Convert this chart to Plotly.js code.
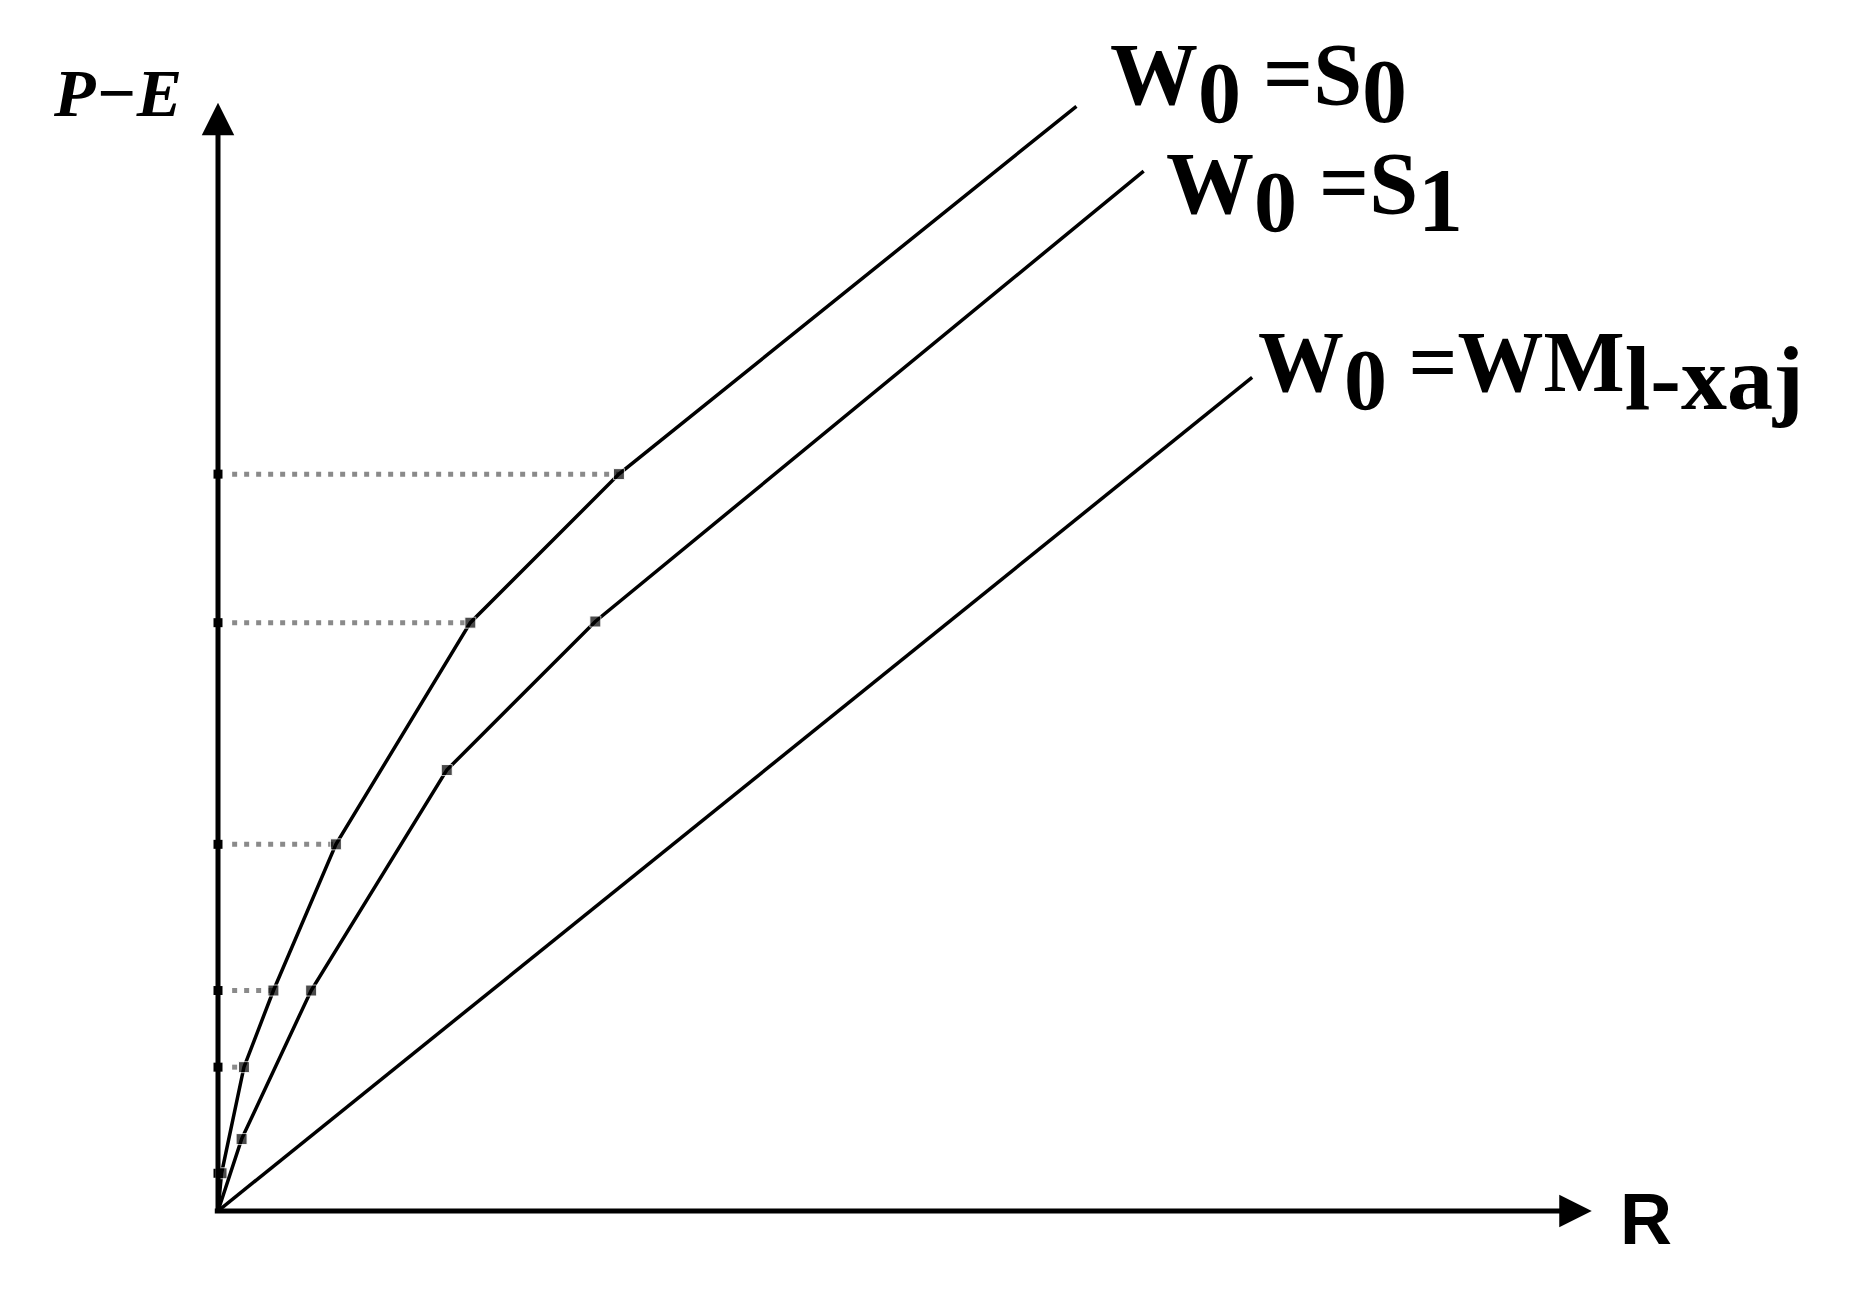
<!DOCTYPE html>
<html>
<head>
<meta charset="utf-8">
<script src="https://cdn.plot.ly/plotly-3.0.1.min.js"></script>
<style>html,body{margin:0;padding:0;background:#fff;}#chart{width:1849px;height:1298px;}</style>
</head>
<body>
<div id="chart"></div>
<script>
// Curve W0 = S0 (break points)
const s0X = [0, 0.3, 2.2, 4.7, 10.0, 21.4, 34.0, 72.8];
const s0Y = [0, 3.2, 12.2, 18.7, 31.1, 49.9, 62.5, 93.7];
// Curve W0 = S1
const s1X = [0, 2.0, 7.9, 19.4, 32.0, 78.5];
const s1Y = [0, 6.1, 18.7, 37.4, 50.0, 88.2];
// Straight line W0 = WM(l-xaj)
const wmX = [0, 87.7];
const wmY = [0, 70.7];
// Dotted guide levels (P-E) and the x where each meets the S0 curve
const levelY = [62.5, 49.9, 31.1, 18.7, 12.2, 3.2];
const levelX = [34.0, 21.4, 10.0, 4.7, 2.2, 0.3];
const guideStart = 1.2;
// Axis extents
const xAxisEnd = 116.5;
const yAxisEnd = 94.0;
// Labels
const labelS0 = 'W<sub><span style="font-size:86px">0</span></sub> =S<sub><span style="font-size:90px">0</span></sub>';
const labelS1 = 'W<sub><span style="font-size:86px">0</span></sub> =S<sub><span style="font-size:90px">1</span></sub>';
const labelWM = 'W<sub><span style="font-size:86px">0</span></sub> =WM<sub><span style="font-size:92px">l-xaj</span></sub>';
const yLabel = 'P\u2212E';
const xLabel = 'R';

const traces = [];
// dotted guides
for (let i = 0; i < levelY.length; i++) {
  if (levelX[i] > guideStart + 0.5) {
    traces.push({
      x: [guideStart, levelX[i]], y: [levelY[i], levelY[i]],
      mode: 'lines', type: 'scatter', cliponaxis: false, hoverinfo: 'skip',
      line: {color: '#8a8a8a', width: 5, dash: '5px,7px'}
    });
  }
}
// tick marks on the P-E axis
traces.push({
  x: levelY.map(() => 0), y: levelY, mode: 'markers', type: 'scatter', cliponaxis: false,
  marker: {symbol: 'square', size: 9, color: '#000'}
});
const lineStyle = {color: '#000', width: 3.5};
traces.push({x: s0X, y: s0Y, mode: 'lines+markers', type: 'scatter', cliponaxis: false,
  line: lineStyle,
  marker: {symbol: 'square', color: '#000', size: s0X.map((v, i) => (i === 0 || i === s0X.length - 1) ? 0 : 11)}});
traces.push({x: s1X, y: s1Y, mode: 'lines+markers', type: 'scatter', cliponaxis: false,
  line: lineStyle,
  marker: {symbol: 'square', color: '#000', size: s1X.map((v, i) => (i === 0 || i === s1X.length - 1) ? 0 : 11)}});
traces.push({x: wmX, y: wmY, mode: 'lines', type: 'scatter', cliponaxis: false, line: lineStyle});

const serif = 'Liberation Serif, Times New Roman, serif';
const annotations = [
  {x: xAxisEnd, y: 0, ax: -0.4, ay: 0, xref: 'x', yref: 'y', axref: 'x', ayref: 'y',
   text: '', showarrow: true, arrowhead: 2, arrowsize: 1.3, arrowwidth: 5, arrowcolor: '#000'},
  {x: 0, y: yAxisEnd, ax: 0, ay: -0.3, xref: 'x', yref: 'y', axref: 'x', ayref: 'y',
   text: '', showarrow: true, arrowhead: 2, arrowsize: 1.3, arrowwidth: 5, arrowcolor: '#000'},
  {x: 1.009, y: -0.007, xref: 'paper', yref: 'paper', xanchor: 'center', yanchor: 'middle',
   text: '<b>' + xLabel + '</b>', showarrow: false,
   font: {family: 'Liberation Sans, Arial, sans-serif', size: 72, color: '#000'}},
  {x: -0.071, y: 0.948, xref: 'paper', yref: 'paper', xanchor: 'center', yanchor: 'middle',
   text: '<b><i>' + yLabel + '</i></b>', showarrow: false,
   font: {family: serif, size: 68, color: '#000'}},
  {x: 75.5, y: 95.6, xref: 'x', yref: 'y', xanchor: 'left', yanchor: 'middle', text: '<b>' + labelS0 + '</b>', showarrow: false,
   font: {family: serif, size: 88, color: '#000'}},
  {x: 80.2, y: 86.4, xref: 'x', yref: 'y', xanchor: 'left', yanchor: 'middle', text: '<b>' + labelS1 + '</b>', showarrow: false,
   font: {family: serif, size: 88, color: '#000'}},
  {x: 88.0, y: 71.2, xref: 'x', yref: 'y', xanchor: 'left', yanchor: 'middle', text: '<b>' + labelWM + '</b>', showarrow: false,
   font: {family: serif, size: 86, color: '#000'}}
];

const layout = {
  width: 1849, height: 1298,
  margin: {l: 218, r: 216, t: 32, b: 87},
  paper_bgcolor: '#fff', plot_bgcolor: '#fff',
  showlegend: false,
  xaxis: {range: [0, 120], visible: false, fixedrange: true},
  yaxis: {range: [0, 100], visible: false, fixedrange: true},
  annotations: annotations
};
Plotly.newPlot('chart', traces, layout, {displayModeBar: false, staticPlot: true});
</script>
</body>
</html>
